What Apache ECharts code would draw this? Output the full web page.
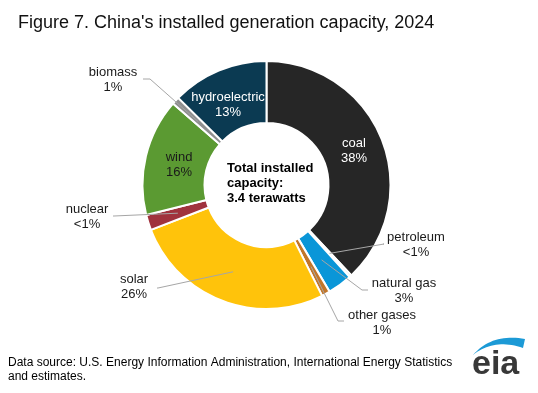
<!DOCTYPE html>
<html>
<head>
<meta charset="utf-8">
<script src="https://cdn.jsdelivr.net/npm/echarts@6/dist/echarts.min.js"></script>
<style>
html,body{margin:0;padding:0;background:#fff;}
#chart{width:538px;height:393px;}
</style>
</head>
<body>
<div id="chart"></div>
<script>
// ---- data ----
const categories = ['coal', 'petroleum', 'natural gas', 'other gases', 'solar', 'nuclear', 'wind', 'biomass', 'hydroelectric'];
const values = [38.0, 0.3, 3.2, 1.1, 26.5, 2.0, 15.3, 1.0, 12.6];
const percentLabels = ['38%', '<1%', '3%', '1%', '26%', '<1%', '16%', '1%', '13%'];
const titleText = "Figure 7. China's installed generation capacity, 2024";
const centerText = ['Total installed', 'capacity:', '3.4 terawatts'];
const sourceText = ['Data source: U.S. Energy Information Administration, International Energy Statistics', 'and estimates.'];

// ---- styles / layout ----
const colors = ['#262626', '#d0d0d0', '#0a96d8', '#c2762a', '#ffc30b', '#a0323d', '#5b9a32', '#8f8f8f', '#0b3a52'];
const insideLabelColor = {'coal': '#ffffff', 'hydroelectric': '#ffffff', 'wind': '#1a1a1a'};
const insideLayout = {'coal': [354, 151], 'hydroelectric': [228, 105], 'wind': [179, 165]};
const CX = 266.5, CY = 185, R_IN = 62, R_OUT = 124, R_LINE = 93;
// outer label placement: label centre, then line end points (label side)
const outerLayout = {
  'biomass':     {pos: [113, 80],  tail: [[150, 79], [143, 79]]},
  'nuclear':     {pos: [87, 217],  tail: [[114, 216], [113, 216]]},
  'solar':       {pos: [134, 287], tail: [[158, 288], [157, 288]]},
  'petroleum':   {pos: [416, 245], tail: [[384, 244], [383, 244]]},
  'natural gas': {pos: [404, 291], tail: [[362, 290], [368, 290]]},
  'other gases': {pos: [382, 323], tail: [[338, 321], [344, 321]]}
};

const total = values.reduce((a, b) => a + b, 0);
const midAngles = [];
let acc = 0;
values.forEach(v => { midAngles.push((acc + v / 2) / total * 2 * Math.PI); acc += v; });

// leader lines (drawn above the ring), starting at each slice's middle
const leaderLines = categories.map((name, i) => {
  const lay = outerLayout[name];
  if (!lay) return null;
  const a = midAngles[i];
  const start = [CX + R_LINE * Math.sin(a), CY - R_LINE * Math.cos(a)];
  return {
    type: 'polyline', z: 100, silent: true,
    shape: {points: [start, lay.tail[0], lay.tail[1]]},
    style: {stroke: '#a6a6a6', lineWidth: 1, fill: null}
  };
}).filter(Boolean);

// eia logo crescent as polygon
function quad(p0, p1, p2, n) {
  const out = [];
  for (let i = 0; i <= n; i++) {
    const t = i / n;
    out.push([(1 - t) * (1 - t) * p0[0] + 2 * (1 - t) * t * p1[0] + t * t * p2[0],
              (1 - t) * (1 - t) * p0[1] + 2 * (1 - t) * t * p1[1] + t * t * p2[1]]);
  }
  return out;
}
const logoArc = quad([473, 355], [492, 333], [525, 339], 20)
  .concat(quad([523, 348], [494, 338], [473, 355], 20));

const chart = echarts.init(document.getElementById('chart'), null, {renderer: 'canvas'});

const data = categories.map((name, i) => {
  const inside = insideLabelColor[name] !== undefined;
  return {
    name: name,
    value: values[i],
    itemStyle: {color: colors[i]},
    label: inside ? {position: 'inside', color: insideLabelColor[name]} : {position: 'outside', color: '#1a1a1a'}
  };
});

const option = {
  backgroundColor: '#ffffff',
  animation: false,
  title: {
    text: titleText,
    left: 13, top: 9,
    textStyle: {fontFamily: 'Liberation Sans', fontSize: 18, fontWeight: 'normal', color: '#111'}
  },
  graphic: [
    {type: 'text', x: 227, y: 161, style: {text: centerText.join('\n'), font: 'bold 13px "Liberation Sans"', lineHeight: 15, fill: '#000'}},
    {type: 'text', x: 8, y: 356, style: {text: sourceText.join('\n'), font: '12px "Liberation Sans"', lineHeight: 14, fill: '#000'}},
    {type: 'text', x: 472, y: 348, style: {text: 'eia', font: 'bold 34px "Liberation Sans"', fill: '#383838'}},
    {type: 'polygon', shape: {points: logoArc}, style: {fill: '#1c9ad6'}}
  ].concat(leaderLines),
  series: [{
    type: 'pie',
    center: [CX, CY],
    radius: [R_IN, R_OUT],
    startAngle: 90,
    clockwise: true,
    avoidLabelOverlap: false,
    itemStyle: {borderColor: '#ffffff', borderWidth: 2},
    label: {
      show: true,
      fontFamily: 'Liberation Sans',
      fontSize: 13,
      lineHeight: 15,
      align: 'center',
      formatter: p => p.name + '\n' + percentLabels[p.dataIndex]
    },
    labelLine: {show: false},
    labelLayout: function (params) {
      const name = categories[params.dataIndex];
      const p = insideLayout[name] || (outerLayout[name] && outerLayout[name].pos);
      if (!p) return {};
      return {x: p[0], y: p[1], align: 'center', verticalAlign: 'middle'};
    },
    data: data
  }]
};
chart.setOption(option);
</script>
</body>
</html>
